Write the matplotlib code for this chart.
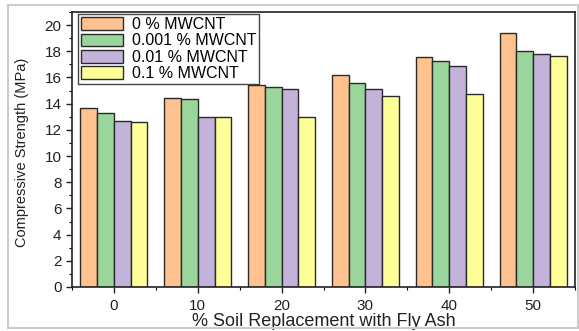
import matplotlib
matplotlib.use("Agg")
import matplotlib.pyplot as plt
import numpy as np
from matplotlib.patches import Rectangle
from matplotlib.ticker import MultipleLocator

plt.rcParams['font.family'] = ['Liberation Sans', 'DejaVu Sans']

categories = [0, 10, 20, 30, 40, 50]
series_names = ["0 % MWCNT", "0.001 % MWCNT", "0.01 % MWCNT", "0.1 % MWCNT"]
s0 = [13.64, 14.45, 15.40, 16.16, 17.56, 19.37]
s1 = [13.26, 14.33, 15.27, 15.57, 17.25, 18.02]
s2 = [12.65, 12.95, 15.10, 15.11, 16.87, 17.79]
s3 = [12.60, 12.95, 12.98, 14.60, 14.73, 17.63]
colors = ["#FFC28F", "#9AD69B", "#C3B2D9", "#FFFF99"]

fig = plt.figure(figsize=(5.79, 3.31), dpi=100)
L, R, B, T = 72/579, 575/579, 1 - 287/331, 1 - 12/331
ax = fig.add_axes([L, B, R - L, T - B])

x = np.array(categories, dtype=float)
w = 2.0
offsets = [-3, -1, 1, 3]
for vals, name, c, off in zip([s0, s1, s2, s3], series_names, colors, offsets):
    ax.bar(x + off, vals, width=w, color=c, edgecolor="#2a2a2a", linewidth=1.0, label=name)

ax.set_xlim(-5, 55)
ax.set_ylim(0, 21)
ax.set_xticks(categories)
ax.xaxis.set_minor_locator(MultipleLocator(5))
ax.yaxis.set_major_locator(MultipleLocator(2))
ax.yaxis.set_minor_locator(MultipleLocator(1))
ax.tick_params(axis='both', which='major', direction='out', length=4, width=1, labelsize=11, colors='#222222')
ax.tick_params(axis='x', which='major', pad=5)
ax.tick_params(axis='both', which='minor', direction='out', length=2, width=0.8)
for sp in ax.spines.values():
    sp.set_linewidth(1.2)
    sp.set_color("#222222")

ax.set_xlabel("% Soil Replacement with Fly Ash", fontsize=13, color="#222222")
ax.xaxis.label.set_va('center')
ax.xaxis.set_label_coords(0.5, (287 - 321) / 275)
ax.set_ylabel("Compressive Strength (MPa)", fontsize=10.5, color="#222222")
ax.yaxis.label.set_va('center')
ax.yaxis.set_label_coords((22 - 72) / 503, 0.49)

leg = ax.legend(loc="upper left", bbox_to_anchor=((78 - 72) / 503, 1 - 2 / 275),
                fontsize=11.5, frameon=True, fancybox=False,
                edgecolor="#444444", borderpad=0.2, labelspacing=0.08,
                handlelength=2.6, handleheight=0.85, handletextpad=0.55,
                borderaxespad=0.0)
leg.get_frame().set_linewidth(1.0)
leg.get_frame().set_alpha(1)

fig.patches.append(Rectangle((8/579, 3/331), 570/579, 323/331, transform=fig.transFigure,
                             fill=False, edgecolor="#cccccc", linewidth=1.5))

fig.savefig("out.png", dpi=100)
